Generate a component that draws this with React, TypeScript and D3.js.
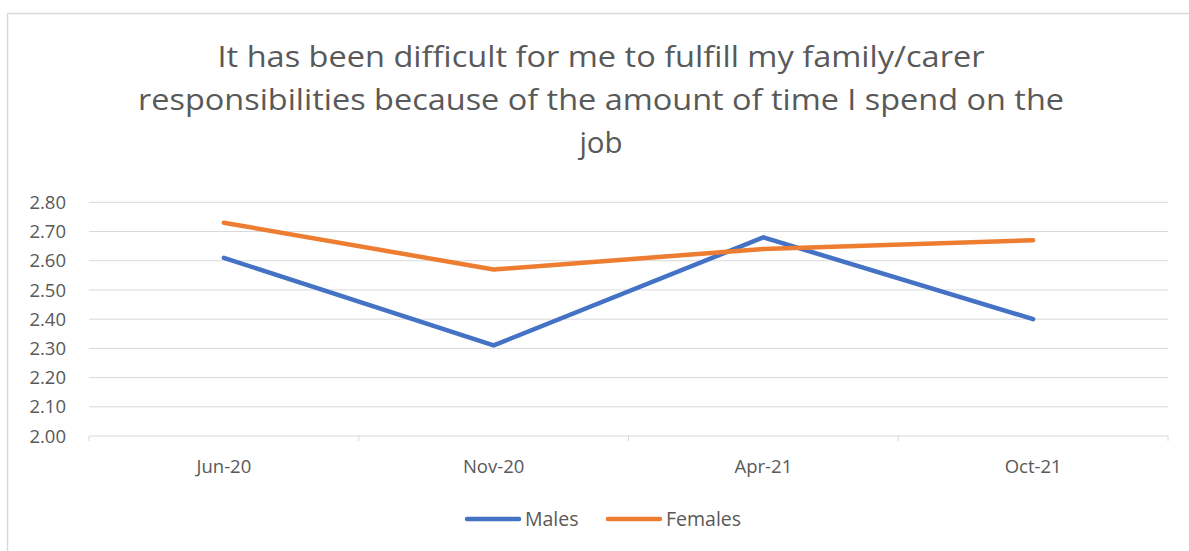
import React from "react";
import * as d3 from "d3";

const categories = ["Jun-20", "Nov-20", "Apr-21", "Oct-21"];
const males = [2.61, 2.31, 2.68, 2.4];
const females = [2.73, 2.57, 2.64, 2.67];
const yTicks = [2.0, 2.1, 2.2, 2.3, 2.4, 2.5, 2.6, 2.7, 2.8];
const titleLines = [
  "It has been difficult for me to fulfill my family/carer",
  "responsibilities because of the amount of time I spend on the",
  "job",
];
const seriesNames = ["Males", "Females"];
const seriesColors = ["#4472C4", "#ED7D31"];

const W = 1189;
const H = 551;
const left = 89;
const right = 1168;
const top = 202.3;
const bottom = 436;
const font = "'Open Sans', 'Noto Sans', sans-serif";
const textColor = "#595959";

export default function App() {
  const x = d3.scaleBand<string>().domain(categories).range([left, right]).padding(0);
  const y = d3.scaleLinear().domain([2.0, 2.8]).range([bottom, top]);
  const line = d3
    .line<number>()
    .x((_, i) => (x(categories[i]) as number) + x.bandwidth() / 2)
    .y((d) => y(d));
  const series = [males, females];
  const tickEdges = [...categories.map((c) => x(c) as number), right];
  const titleWidths = [767, 926, 60];

  return (
    <svg
      width={W}
      height={H}
      style={{ position: "absolute", left: 0, top: 0, display: "block" }}
      fontFamily={font}
    >
      <rect x={0} y={0} width={W} height={H} fill="#ffffff" />
      <rect x={7.5} y={13.5} width={W + 10} height={H + 10} fill="none" stroke="#d9d9d9" strokeWidth={1.5} />
      {titleLines.map((t, i) => (
        <text
          key={i}
          x={601}
          y={67 + i * 43}
          textAnchor="middle"
          fontSize={29.5}
          fill={textColor}
          textLength={i < 2 ? titleWidths[i] : undefined}
          lengthAdjust="spacingAndGlyphs"
        >
          {t}
        </text>
      ))}
      {yTicks.map((t) => (
        <g key={t}>
          {t > 2.0 && (
            <line x1={left} x2={right} y1={y(t)} y2={y(t)} stroke="#d9d9d9" strokeWidth={1} />
          )}
          <text x={66} y={y(t)} dy="0.36em" textAnchor="end" fontSize={18.5} fill={textColor}>
            {t.toFixed(2)}
          </text>
        </g>
      ))}
      <line x1={left} x2={right} y1={bottom} y2={bottom} stroke="#d9d9d9" strokeWidth={1} />
      {tickEdges.map((e, i) => (
        <line key={i} x1={e} x2={e} y1={bottom} y2={bottom + 5} stroke="#d9d9d9" strokeWidth={1} />
      ))}
      {categories.map((c) => (
        <text
          key={c}
          x={(x(c) as number) + x.bandwidth() / 2}
          y={466}
          dy="0.36em"
          textAnchor="middle"
          fontSize={18.5}
          fill={textColor}
        >
          {c}
        </text>
      ))}
      {series.map((s, i) => (
        <path
          key={i}
          d={line(s) as string}
          fill="none"
          stroke={seriesColors[i]}
          strokeWidth={4.5}
          strokeLinecap="round"
          strokeLinejoin="round"
        />
      ))}
      {seriesNames.map((n, i) => {
        const lx = [465, 606][i];
        return (
          <g key={n}>
            <line x1={lx + 2} x2={lx + 54} y1={519} y2={519} stroke={seriesColors[i]} strokeWidth={4.5} strokeLinecap="round" />
            <text x={lx + 60} y={519} dy="0.36em" fontSize={19.5} fill={textColor}>
              {n}
            </text>
          </g>
        );
      })}
    </svg>
  );
}
